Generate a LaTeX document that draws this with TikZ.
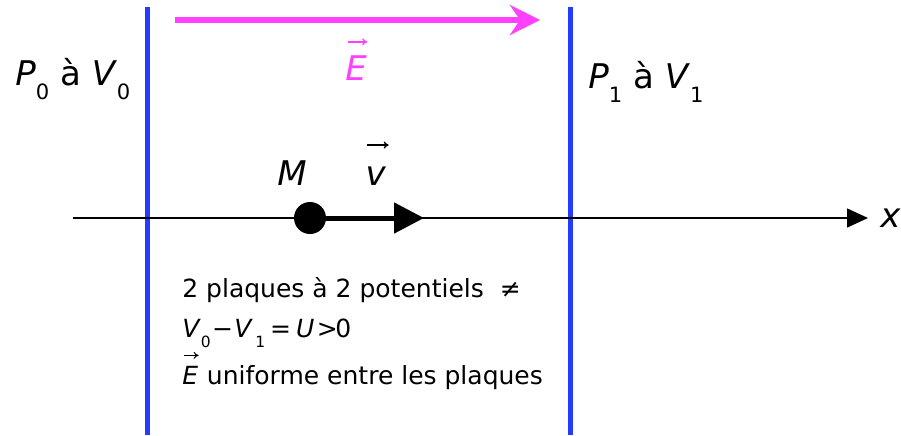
\documentclass[tikz,border=0pt]{standalone}
\usepackage{fontspec}
\setmainfont{DejaVu Sans}
\usepackage{graphicx}
\usepackage{tikz}
\usetikzlibrary{arrows.meta,positioning}
\definecolor{plate}{RGB}{35,60,255}
\definecolor{field}{RGB}{255,64,255}
\newcommand{\Sub}[1]{\raisebox{-0.42em}{\scalebox{0.62}{#1}}}

\begin{document}
\begin{tikzpicture}[
  x=0.5pt, y=-0.5pt,
  big/.style   = {font=\fontsize{17}{20}\selectfont, inner sep=0pt},
  small/.style = {font=\fontsize{12.5}{15}\selectfont, inner sep=0pt,
                  anchor=base west},
  plateline/.style = {draw=plate, line width=2.5pt},
  efield/.style = {draw=field, line width=3pt,
                   -{Stealth[length=15pt, width=15pt, inset=5pt]}},
  axis/.style  = {draw=black, line width=0.75pt,
                  -{Triangle[length=10.5pt, width=9.5pt]}},
  speed/.style = {draw=black, line width=2.5pt,
                  -{Triangle[length=15pt, width=15pt]}},
  vecarrow/.style = {line width=0.7pt, -{To[length=2.5pt, width=3.5pt]}},
  dot/.style   = {circle, fill=black, minimum size=16pt, inner sep=0pt}
]
\useasboundingbox (0,0) rectangle (901,435);

%%%%%%%%%%%%%%%%%%%%%%% PLATES %%%%%%%%%%%%%%%%%%%%%%%%%%%%%%%%%
\coordinate (p0top) at (147,7);  \coordinate (p0bot) at (147,435);
\coordinate (p1top) at (570,7);  \coordinate (p1bot) at (570,435);
\draw[plateline] (p0top) -- (p0bot);
\draw[plateline] (p1top) -- (p1bot);

\node[big, anchor=base west] (lp0) at (15,85)
      {\textit{P}\Sub{0} à \textit{V}\Sub{0}};
\node[big, anchor=base west] (lp1) at (588,88)
      {\textit{P}\Sub{1} à \textit{V}\Sub{1}};

%%%%%%%%%%%%%%%%%%%%%%% FIELD %%%%%%%%%%%%%%%%%%%%%%%%%%%%%%%%%%
\coordinate (estart) at (175,20);  \coordinate (eend) at (540,20);
\draw[efield] (estart) -- (eend);
\node[big, text=field, anchor=base] (lE) at (356,80) {\textit{E}};
\draw[vecarrow, draw=field] ([xshift=1.5pt, yshift=6.5pt]lE.north west)
      -- ([yshift=6.5pt]lE.north east);

%%%%%%%%%%%%%%%%%%%%%%% AXIS AND POINT M %%%%%%%%%%%%%%%%%%%%%%%
\coordinate (xstart) at (73,218);  \coordinate (xend) at (868,218);
\draw[axis] (xstart) -- (xend);
\node[big, anchor=base west] (lx) at (880,227) {\textit{x}};

\node[dot] (M) at (310,218) {};
\coordinate (vend) at (424,218);
\draw[speed] (M.east) -- (vend);
\node[big, anchor=base] (lM) at (292,185) {\textit{M}};
\node[big, anchor=base] (lv) at (376,185) {\textit{v}};
\draw[vecarrow] ([xshift=1pt, yshift=10.5pt]lv.north west)
      -- ([xshift=1pt, yshift=10.5pt]lv.north east);

%%%%%%%%%%%%%%%%%%%%%%% TEXT %%%%%%%%%%%%%%%%%%%%%%%%%%%%%%%%%%%
\node[small] (t1) at (182,297) {2 plaques à 2 potentiels~ ≠};
\node[small] (t2) at (182,337)
      {\textit{V}\Sub{0}\kern.05em−\kern.05em\textit{V}\kern.1em\Sub{1}%
       \kern.2em=\kern.2em\textit{U}\kern.1em>\kern-.1em0};
\node[small] (tE) at (182,384) {\textit{E}};
\draw[vecarrow, line width=0.5pt] ([xshift=1pt, yshift=5pt]tE.north west)
      -- ([yshift=5pt]tE.north east);
\node[small] (t3) at ([xshift=4pt]tE.base east) {uniforme entre les plaques};

\end{tikzpicture}
\end{document}
